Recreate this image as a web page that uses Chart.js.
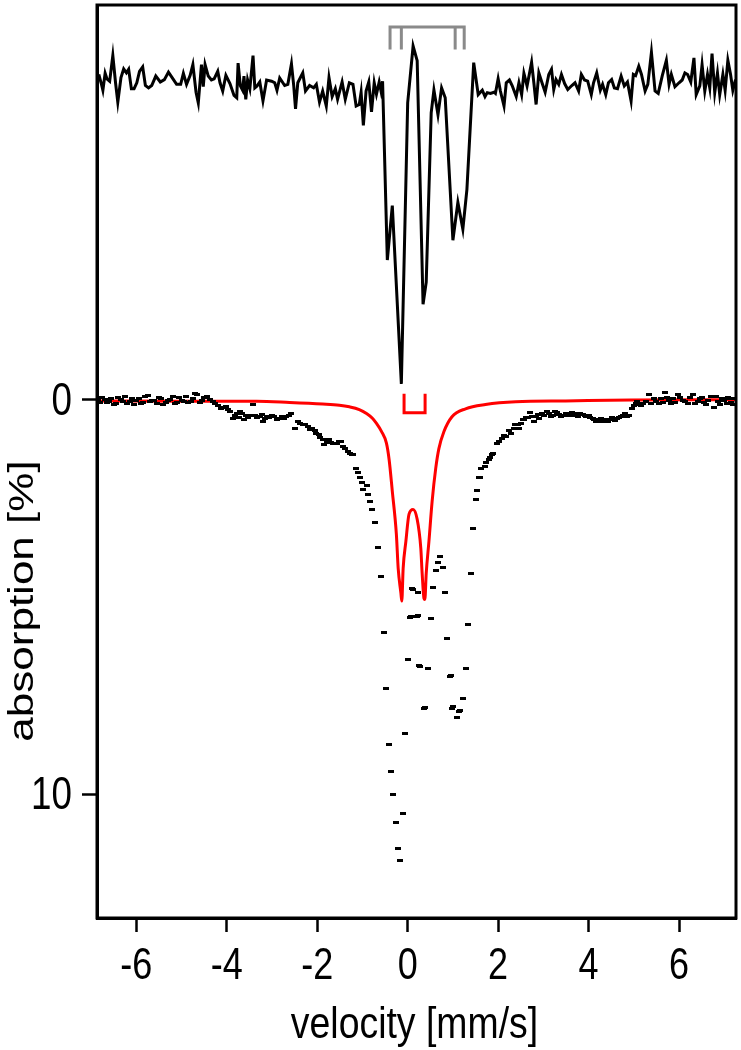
<!DOCTYPE html>
<html lang="en">
<head>
<meta charset="UTF-8">
<title>Mössbauer spectrum</title>
<script src="https://cdn.jsdelivr.net/npm/chart.js"></script>
<style>
  html, body { margin: 0; padding: 0; background: #fff; }
  #spectrum { display: block; }
</style>
</head>
<body>
<canvas id="spectrum" width="741" height="1050"></canvas>
<script>
const xTicks = [-6, -4, -2, 0, 2, 4, 6];
const yTicks = [0, 10];
const xTitle = 'velocity [mm/s]';
const yTitle = 'absorption [%]';

// upper (offset) spectrum line, [velocity, absorption]
const upperSpectrum = [
  [-6.83,-8.24],[-6.78,-8.03],[-6.74,-7.84],[-6.69,-8.27],[-6.65,-8.13],[-6.59,-8.07],[-6.52,-8.72],[-6.46,-8.03],
  [-6.41,-7.54],[-6.34,-8.16],[-6.28,-8.38],[-6.22,-8.28],[-6.17,-8.37],[-6.11,-7.88],[-6.05,-7.88],[-5.99,-8.03],
  [-5.93,-8.32],[-5.86,-8.43],[-5.80,-7.96],[-5.73,-7.90],[-5.66,-7.96],[-5.57,-8.20],[-5.47,-8.05],[-5.38,-8.11],
  [-5.29,-8.30],[-5.19,-8.13],[-5.11,-7.99],[-5.02,-7.99],[-4.96,-8.27],[-4.89,-7.99],[-4.81,-8.22],[-4.75,-8.49],
  [-4.68,-7.79],[-4.63,-7.52],[-4.56,-8.49],[-4.52,-7.93],[-4.48,-8.49],[-4.41,-8.20],[-4.34,-8.10],[-4.28,-8.13],
  [-4.20,-8.32],[-4.15,-8.03],[-4.09,-7.82],[-4.02,-8.22],[-3.93,-8.01],[-3.84,-7.71],[-3.78,-7.65],[-3.75,-8.53],
  [-3.70,-7.95],[-3.65,-7.84],[-3.62,-8.20],[-3.58,-7.61],[-3.54,-8.10],[-3.49,-7.88],[-3.42,-8.72],[-3.38,-7.90],
  [-3.33,-7.95],[-3.27,-8.05],[-3.20,-7.57],[-3.12,-8.10],[-3.01,-8.07],[-2.94,-8.03],[-2.89,-7.84],[-2.83,-8.15],
  [-2.72,-7.96],[-2.65,-7.99],[-2.57,-8.51],[-2.52,-7.96],[-2.48,-7.37],[-2.43,-8.03],[-2.32,-8.28],[-2.26,-7.82],
  [-2.17,-7.96],[-2.08,-7.90],[-2.02,-7.99],[-1.95,-7.54],[-1.88,-7.82],[-1.80,-7.44],[-1.74,-8.16],[-1.67,-7.68],
  [-1.60,-7.88],[-1.55,-7.61],[-1.45,-8.05],[-1.38,-7.61],[-1.29,-8.03],[-1.21,-7.99],[-1.14,-7.44],[-1.07,-7.48],
  [-1.03,-7.79],[-0.98,-6.95],[-0.92,-7.82],[-0.86,-8.05],[-0.80,-7.29],[-0.74,-8.03],[-0.69,-7.74],[-0.63,-8.05],
  [-0.59,-7.82],[-0.555,-8.07],
  [-0.45,-3.54],[-0.34,-4.92],[-0.14,-0.40],[0.00,-7.52],[0.12,-8.96],[0.21,-8.59],[0.34,-2.42],[0.41,-2.98],
  [0.52,-7.27],[0.58,-7.85],[0.67,-7.22],[0.75,-7.90],[0.83,-7.65],[1.00,-4.04],[1.11,-5.00],[1.22,-4.32],
  [1.31,-5.33],[1.46,-8.54],
  [1.56,-7.73],[1.65,-7.84],[1.71,-7.68],[1.76,-7.78],[1.83,-7.76],[1.91,-7.79],[1.94,-7.76],[2.00,-8.13],
  [2.05,-7.82],[2.13,-7.44],[2.18,-8.03],[2.25,-8.10],[2.31,-7.96],[2.40,-7.68],[2.46,-8.03],[2.52,-7.73],
  [2.57,-8.27],[2.64,-7.95],[2.74,-8.55],[2.79,-8.03],[2.84,-7.48],[2.90,-8.28],[2.97,-8.03],[3.04,-7.79],
  [3.12,-8.24],[3.18,-8.37],[3.23,-7.86],[3.28,-8.11],[3.34,-7.99],[3.40,-8.24],[3.47,-8.01],[3.54,-7.86],
  [3.63,-7.96],[3.70,-8.03],[3.78,-7.82],[3.84,-8.24],[3.91,-8.10],[3.98,-8.07],[4.06,-7.73],[4.11,-8.03],
  [4.18,-8.28],[4.26,-7.84],[4.31,-7.99],[4.38,-7.73],[4.44,-8.03],[4.51,-8.11],[4.57,-7.90],[4.64,-7.88],
  [4.72,-8.20],[4.79,-7.95],[4.86,-8.05],[4.94,-7.57],[4.99,-8.24],[5.04,-8.21],[5.11,-8.45],[5.17,-8.24],
  [5.25,-7.82],[5.31,-7.99],[5.39,-8.80],[5.47,-7.82],[5.54,-7.76],[5.63,-8.21],[5.72,-8.60],[5.78,-7.99],
  [5.83,-8.24],[5.91,-7.93],[6.00,-8.03],[6.07,-8.10],[6.13,-8.28],[6.19,-8.24],[6.26,-8.05],[6.33,-8.66],
  [6.38,-7.73],[6.46,-7.95],[6.51,-8.49],[6.57,-7.82],[6.63,-8.24],[6.68,-7.90],[6.73,-8.77],[6.79,-7.78],
  [6.85,-8.28],[6.90,-7.73],[6.97,-8.24],[7.02,-7.84],[7.08,-8.60],[7.14,-8.24],[7.19,-7.84],[7.25,-8.11]
];

// measured spectrum (square dots), [velocity, absorption]
const measuredPoints = [
  [-6.85,0.02],[-6.80,0.07],[-6.75,-0.05],[-6.70,-0.01],[-6.65,0.08],[-6.60,0.04],[-6.55,-0.03],[-6.50,0.12],
  [-6.45,0.10],[-6.40,-0.06],[-6.35,0.00],[-6.30,0.05],[-6.25,-0.08],[-6.20,0.09],[-6.15,0.05],[-6.10,-0.03],
  [-6.05,0.12],[-6.00,0.03],[-5.95,-0.02],[-5.90,0.10],[-5.85,0.06],[-5.80,-0.07],[-5.75,-0.10],[-5.70,0.05],
  [-5.65,0.03],[-5.60,0.01],[-5.55,0.09],[-5.50,-0.05],[-5.45,-0.04],[-5.40,0.11],[-5.35,0.07],[-5.30,0.02],
  [-5.25,0.00],[-5.20,-0.09],[-5.15,0.10],[-5.10,0.06],[-5.05,-0.06],[-5.00,0.01],[-4.95,0.04],[-4.90,-0.08],
  [-4.85,0.08],[-4.80,0.05],[-4.75,-0.03],[-4.70,-0.15],[-4.65,-0.12],[-4.60,0.06],[-4.55,0.02],[-4.50,-0.05],
  [-4.445,-0.08],[-4.37,0.00],[-4.30,0.05],[-4.25,0.10],[-4.19,0.14],[-4.13,0.22],[-4.08,0.20],[-4.02,0.18],
  [-3.97,0.26],[-3.92,0.30],[-3.86,0.47],[-3.82,0.40],[-3.78,0.35],[-3.74,0.44],[-3.70,0.30],[-3.66,0.36],
  [-3.62,0.51],[-3.565,0.39],[-3.53,0.45],[-3.49,0.39],[-3.43,0.12],[-3.38,0.39],[-3.33,0.44],[-3.27,0.43],
  [-3.23,0.38],[-3.20,0.56],[-3.16,0.48],[-3.12,0.43],[-3.06,0.45],[-3.01,0.39],[-2.95,0.42],[-2.90,0.51],
  [-2.85,0.47],[-2.79,0.43],[-2.74,0.48],[-2.68,0.43],[-2.62,0.40],[-2.57,0.35],[-2.50,0.72],[-2.43,0.56],
  [-2.38,0.60],[-2.32,0.64],[-2.26,0.62],[-2.20,0.68],[-2.15,0.75],[-2.11,0.72],[-2.06,0.78],[-2.02,0.85],
  [-1.97,0.88],[-1.93,0.96],[-1.88,1.02],[-1.84,1.14],[-1.79,1.08],[-1.74,1.02],[-1.70,1.08],[-1.655,1.10],
  [-1.61,1.12],[-1.57,1.10],[-1.52,1.05],[-1.47,1.06],[-1.42,1.18],[-1.38,1.23],[-1.33,1.30],[-1.27,1.36],
  [-1.24,1.38],[-1.20,1.40],[-1.14,1.73],[-1.10,1.85],[-1.05,1.97],[-1.00,2.10],[-0.98,2.28],[-0.91,2.17],
  [-0.87,2.40],[-0.83,2.58],[-0.78,2.79],[-0.73,3.10],[-0.65,3.75],[-0.59,4.47],
  [0.715,3.96],[0.68,4.13],[0.77,4.24],[0.62,4.33],[0.56,4.76],[0.83,4.89],[0.12,4.81],[0.10,4.78],
  [0.22,4.89],[0.07,5.48],[0.05,5.51],[0.23,5.47],[0.21,5.50],[0.51,5.55],[1.34,5.69],[-0.53,5.90],
  [0.86,6.04],[0.00,6.59],[0.275,6.77],[0.25,6.73],[0.46,6.80],[0.95,6.98],[0.93,7.01],[1.28,6.80],
  [-0.47,7.31],[1.23,7.56],[0.39,7.80],[0.36,7.83],[1.00,7.78],[0.98,7.81],[1.15,7.88],[1.13,7.91],
  [1.08,8.05],[-0.055,8.45],[-0.42,8.74],[-0.37,9.42],[-0.32,10.00],[-0.11,10.49],[-0.26,10.72],[-0.21,11.36],
  [-0.165,11.68],
  [1.39,4.41],[1.44,3.25],[1.50,2.53],[1.54,2.31],[1.575,1.97],[1.61,1.97],[1.63,1.73],[1.72,1.69],
  [1.74,1.58],[1.79,1.52],[1.81,1.46],[1.87,1.40],[1.88,1.36],[1.98,1.10],[2.03,1.05],[2.09,0.98],
  [2.13,0.90],[2.18,0.93],[2.23,0.78],[2.29,0.85],[2.34,0.74],[2.38,0.64],[2.43,0.62],[2.47,0.72],
  [2.50,0.60],[2.54,0.51],[2.58,0.50],[2.62,0.45],[2.66,0.44],[2.71,0.32],[2.75,0.42],[2.79,0.56],
  [2.84,0.43],[2.88,0.38],[2.91,0.47],[2.97,0.35],[3.02,0.40],[3.08,0.29],[3.13,0.36],[3.18,0.43],
  [3.22,0.41],[3.26,0.30],[3.31,0.33],[3.35,0.37],[3.40,0.42],[3.45,0.39],[3.50,0.34],[3.54,0.37],
  [3.59,0.40],[3.63,0.32],[3.68,0.36],[3.72,0.39],[3.77,0.42],[3.82,0.35],[3.87,0.37],[3.91,0.39],
  [3.95,0.43],[4.00,0.39],[4.04,0.44],[4.09,0.47],[4.13,0.50],[4.16,0.54],[4.20,0.55],[4.23,0.51],
  [4.27,0.48],[4.31,0.56],[4.35,0.53],[4.38,0.49],[4.43,0.55],[4.48,0.51],[4.52,0.44],[4.55,0.47],
  [4.59,0.52],[4.62,0.47],[4.67,0.45],[4.72,0.43],[4.77,0.40],[4.81,0.35],[4.85,0.42],[4.89,0.39],
  [4.95,0.22],[5.00,0.15],[5.04,0.09],[5.08,0.05],[5.11,0.13],[5.16,0.15],[5.21,0.09],[5.26,0.04],
  [5.33,-0.13],[5.39,0.09],[5.44,-0.04],[5.50,0.05],[5.55,0.10],[5.61,-0.03],[5.65,0.08],[5.69,-0.18],
  [5.74,-0.06],[5.78,0.03],[5.83,0.10],[5.87,-0.02],[5.92,0.06],[5.98,-0.12],[6.03,-0.05],[6.09,0.01],
  [6.14,0.04],[6.20,0.09],[6.25,-0.06],[6.31,-0.13],[6.36,0.10],[6.41,0.05],[6.46,-0.02],[6.51,-0.05],
  [6.55,0.08],[6.60,0.13],[6.65,0.02],[6.70,-0.08],[6.77,0.20],[6.82,-0.07],[6.86,0.05],[6.90,0.12],
  [6.95,-0.03],[7.00,0.02],[7.05,0.09],[7.09,-0.06],[7.12,-0.02],[7.16,0.06],[7.19,0.13],[7.22,-0.04]
];

// fitted doublet (red), [velocity, absorption]
const fitCurve = [
  [-6.87,0.03],[-5.00,0.04],[-3.34,0.04],[-2.61,0.07],[-1.88,0.11],[-1.51,0.14],[-1.29,0.18],[-1.07,0.25],
  [-0.91,0.35],[-0.78,0.47],[-0.69,0.60],[-0.58,0.80],[-0.47,1.10],[-0.41,1.52],[-0.34,2.32],[-0.25,3.41],
  [-0.21,4.27],[-0.15,4.90],[-0.13,5.10],[-0.10,4.27],[-0.04,3.59],[0.03,2.90],[0.12,2.78],[0.21,3.03],
  [0.29,3.76],[0.32,4.40],[0.36,5.03],[0.38,5.06],[0.41,4.40],[0.47,3.59],[0.54,2.58],[0.62,1.74],
  [0.69,1.24],[0.80,0.81],[0.98,0.43],[1.28,0.23],[1.72,0.12],[2.39,0.05],[3.49,0.03],[4.94,0.01],[7.26,0.00]
];

// line position markers
const grayLines = [-0.39, -0.14, 1.05, 1.25];
const grayLevels = [-9.44, -8.87];   // bar, tips
const redLines = [-0.08, 0.385];
const redLevels = [0.33, -0.15];

const fontFamily = '"Liberation Sans", Arial, sans-serif';
const squeeze = 0.8;   // the original figure is horizontally compressed

const toXY = pts => pts.map(p => ({ x: p[0], y: p[1] }));

function bracket(lines, levels) {
  const bar = levels[0], tip = levels[1];
  const first = lines[0], last = lines[lines.length - 1];
  const pts = [{x: first, y: tip}, {x: first, y: bar}, {x: last, y: bar}, {x: last, y: tip}];
  lines.slice(1, -1).forEach(v => {
    pts.push({x: v, y: null}, {x: v, y: bar}, {x: v, y: tip});
  });
  return pts;
}

// small rectangular dot like the original markers
const dot = document.createElement('canvas');
dot.width = 6;
dot.height = 3;
const dctx = dot.getContext('2d');
dctx.fillStyle = '#000';
dctx.fillRect(0, 0, 6, 3);

// text squeezed across the screen x direction
function drawText(ctx, text, x, y, size, align, rotate, k) {
  ctx.save();
  ctx.translate(x, y);
  if (rotate) {
    ctx.rotate(-Math.PI / 2);
    ctx.scale(1, k);
  } else {
    ctx.scale(k, 1);
  }
  ctx.font = size + 'px ' + fontFamily;
  ctx.fillStyle = '#000';
  ctx.textAlign = align;
  ctx.textBaseline = 'alphabetic';
  ctx.fillText(text, 0, 0);
  ctx.restore();
}

const labelPlugin = {
  id: 'labels',
  afterDraw(chart) {
    const {ctx, chartArea: a, scales} = chart;
    ctx.save();
    ctx.strokeStyle = '#000';
    ctx.lineWidth = 3;
    ctx.strokeRect(a.left, a.top, a.right - a.left, a.bottom - a.top);
    ctx.restore();

    scales.x.ticks.forEach(t => {
      drawText(ctx, String(t.value), scales.x.getPixelForValue(t.value), a.bottom + 61, 45, 'center', false, squeeze);
    });
    scales.y.ticks.forEach(t => {
      drawText(ctx, String(t.value), 72, scales.y.getPixelForValue(t.value) + 15, 46, 'right', false, squeeze);
    });
    drawText(ctx, xTitle, (a.left + a.right) / 2 - 2, 1038, 44, 'center', false, 0.85);
    drawText(ctx, yTitle, 33, 601, 44, 'center', true, 0.78);
  }
};

const config = {
  type: 'scatter',
  data: {
    datasets: [
      {
        label: 'measured',
        data: toXY(measuredPoints),
        pointStyle: dot,
        pointRadius: 3,
        showLine: false
      },
      {
        label: 'fit',
        data: toXY(fitCurve),
        showLine: true,
        borderColor: '#ff0000',
        borderWidth: 3,
        pointRadius: 0,
        cubicInterpolationMode: 'monotone'
      },
      {
        label: 'upper',
        data: toXY(upperSpectrum),
        showLine: true,
        borderColor: '#000',
        borderWidth: 3,
        pointRadius: 0,
        tension: 0
      },
      {
        label: 'gray markers',
        data: bracket(grayLines, grayLevels),
        showLine: true,
        spanGaps: false,
        borderColor: '#8a8a8a',
        borderWidth: 3,
        pointRadius: 0
      },
      {
        label: 'red markers',
        data: bracket(redLines, redLevels),
        showLine: true,
        spanGaps: false,
        borderColor: '#ff0000',
        borderWidth: 3,
        pointRadius: 0
      }
    ]
  },
  options: {
    responsive: false,
    animation: false,
    layout: { padding: { top: 2, right: 2, left: 0, bottom: 0 } },
    plugins: {
      legend: { display: false },
      tooltip: { enabled: false }
    },
    scales: {
      x: {
        type: 'linear',
        min: -6.87,
        max: 7.26,
        afterBuildTicks: s => { s.ticks = xTicks.map(v => ({ value: v })); },
        afterFit: s => { s.height = 132; s.paddingLeft = 0; s.paddingRight = 0; },
        ticks: { display: false },
        grid: { drawOnChartArea: false, drawTicks: true, tickLength: 14, tickColor: '#000', tickWidth: 2.5 },
        border: { color: '#000', width: 3 }
      },
      y: {
        type: 'linear',
        reverse: true,
        min: -10.0,
        max: 13.13,
        afterBuildTicks: s => { s.ticks = yTicks.map(v => ({ value: v })); },
        afterFit: s => { s.width = 97; s.paddingTop = 0; s.paddingBottom = 0; },
        ticks: { display: false },
        grid: { drawOnChartArea: false, drawTicks: true, tickLength: 15, tickColor: '#000', tickWidth: 2.5 },
        border: { color: '#000', width: 3 }
      }
    }
  },
  plugins: [labelPlugin]
};

const spectrumChart = new Chart(document.getElementById('spectrum'), config);
</script>
</body>
</html>
